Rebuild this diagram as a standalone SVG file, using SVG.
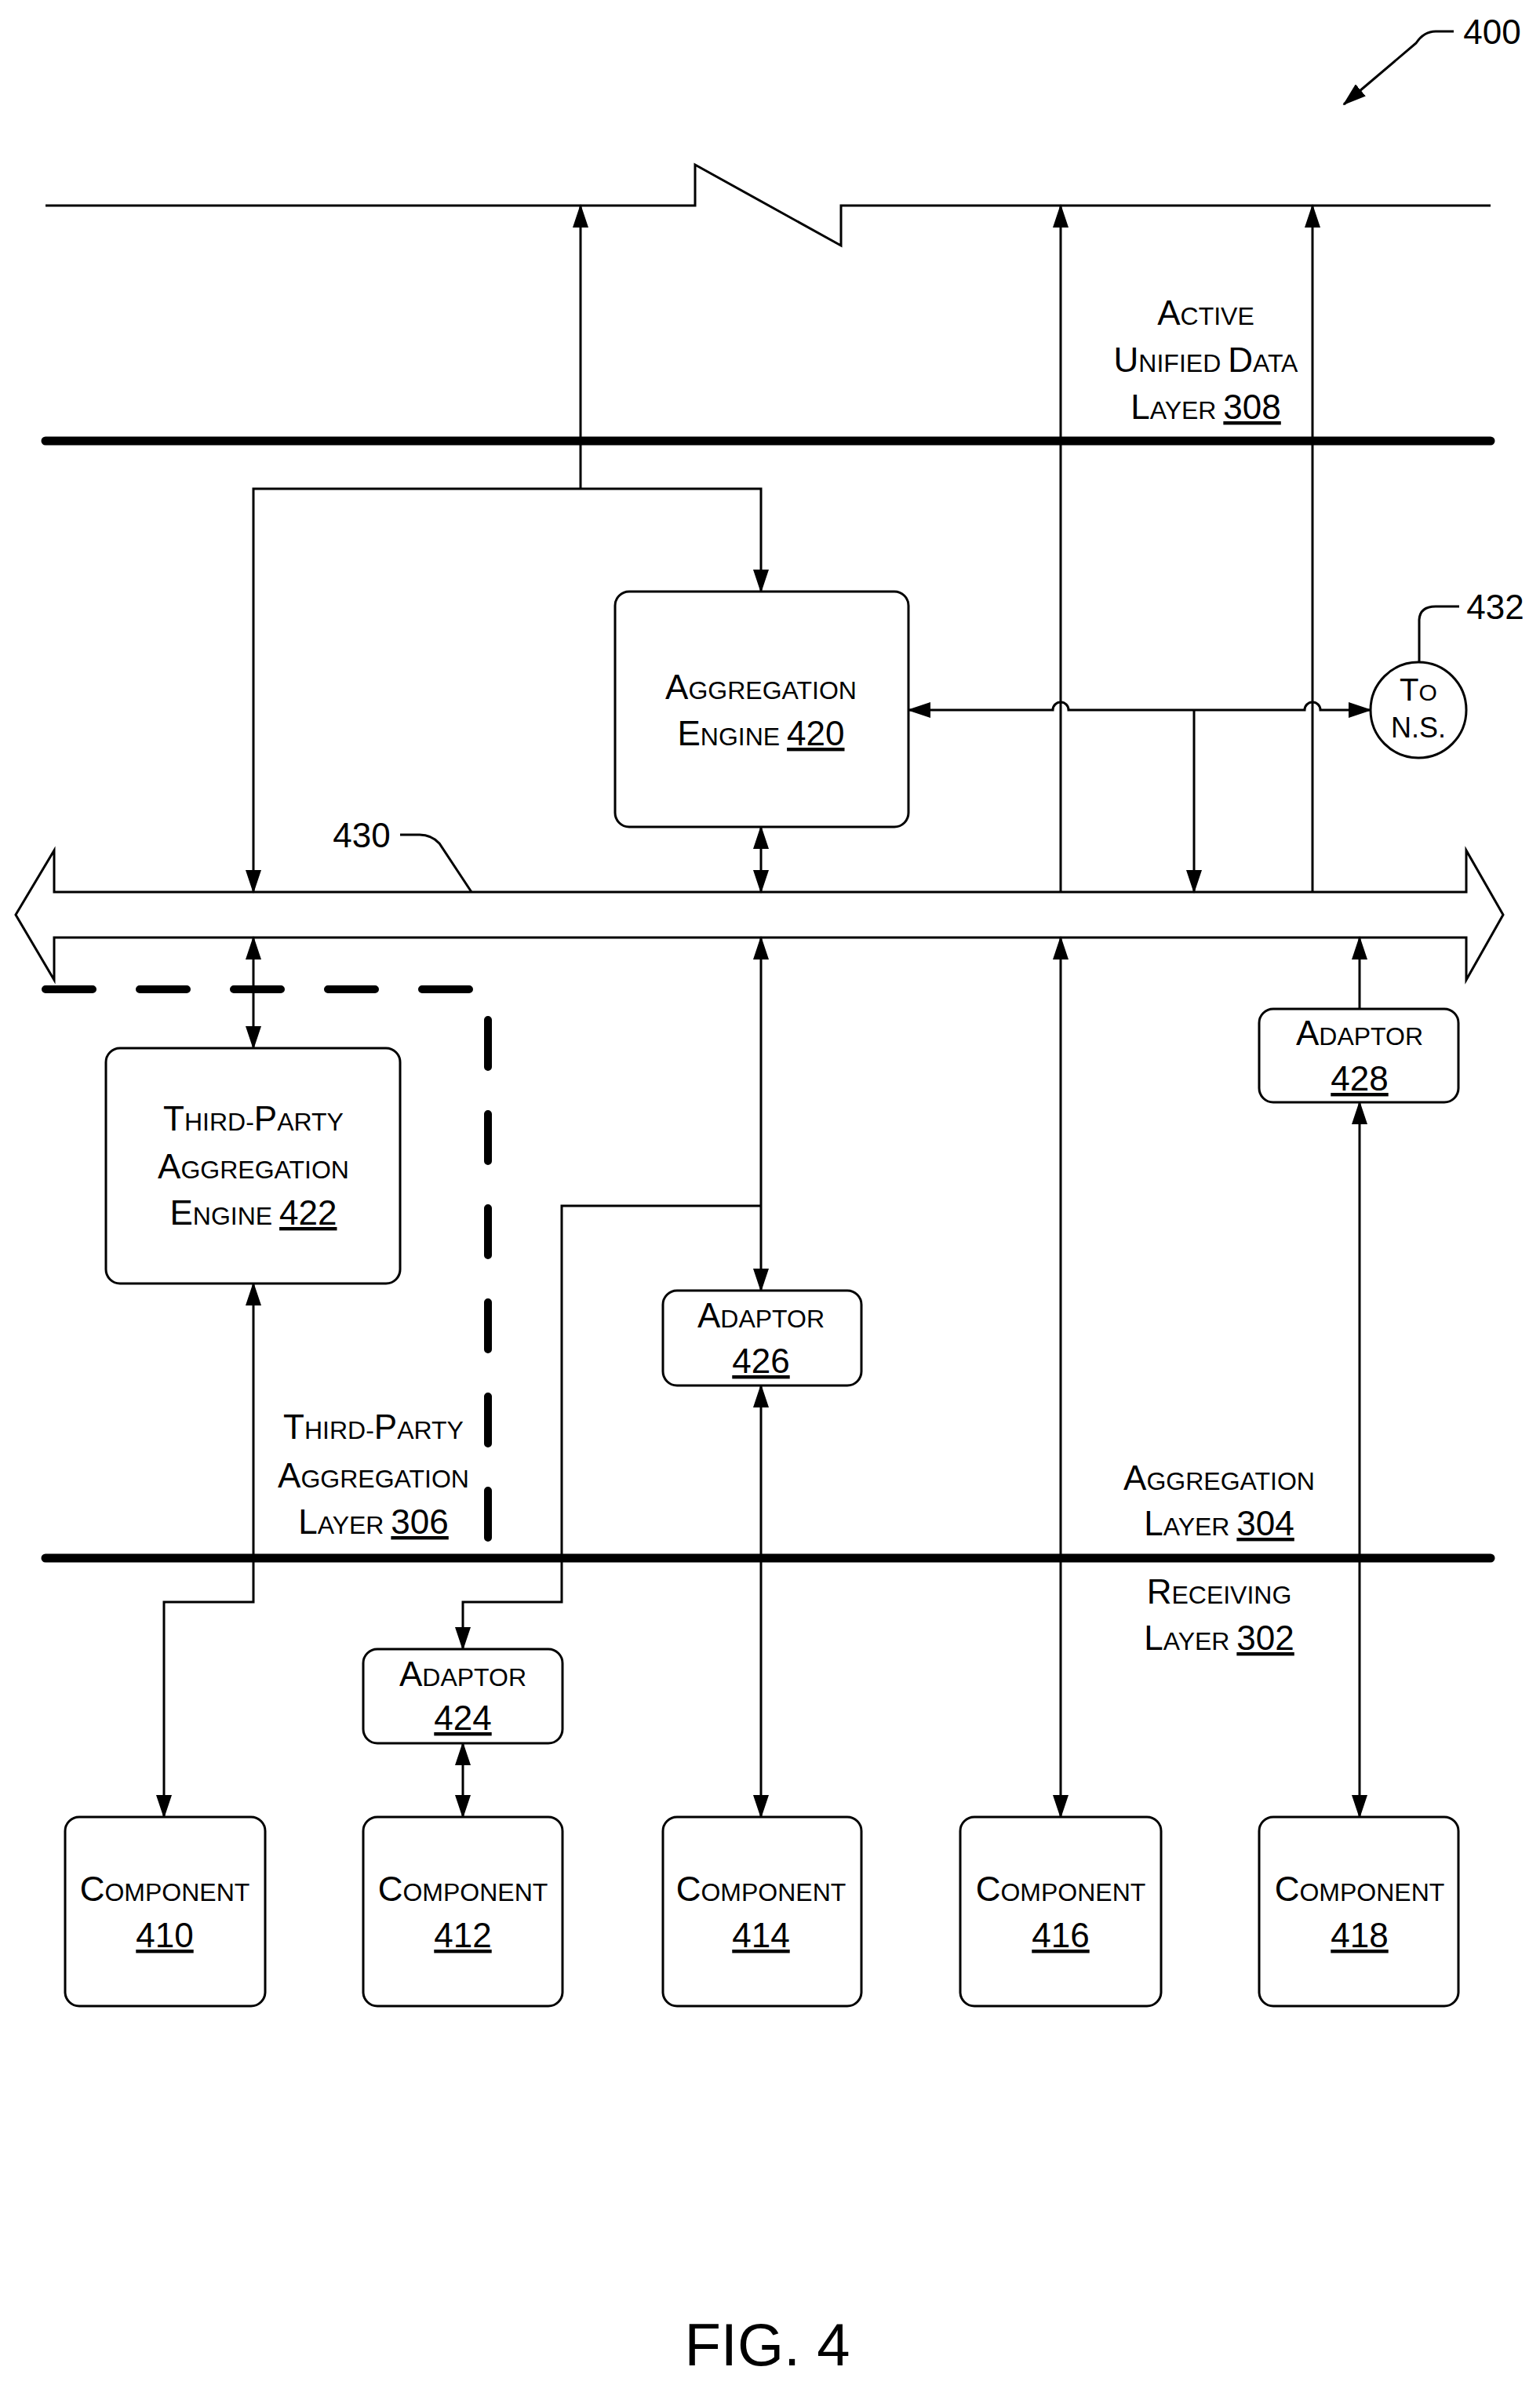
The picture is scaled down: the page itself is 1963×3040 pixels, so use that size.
<svg xmlns="http://www.w3.org/2000/svg" width="1963" height="3040" viewBox="0 0 1963 3040">
<style>
text{font-family:"Liberation Sans Narrow","Liberation Sans",Arial,sans-serif;font-size:44px;fill:#000;text-anchor:middle}
.s{font-size:32px}
.u{text-decoration:underline}
.ln{fill:none;stroke:#000;stroke-width:3}
.thick{fill:none;stroke:#000;stroke-width:11;stroke-linecap:round}
.box{fill:#fff;stroke:#000;stroke-width:3}
.dash{fill:none;stroke:#000;stroke-width:10;stroke-linecap:round;stroke-dasharray:60,60}
</style>
<defs>
<marker id="a" markerUnits="userSpaceOnUse" markerWidth="30" markerHeight="20" refX="28" refY="10" orient="auto-start-reverse"><path d="M0,0 L30,10 L0,20 Z" fill="#000"/></marker>
</defs>
<g id="layers">
<path class="ln" d="M58,262 H886 V210 L1072,313 V262 H1900" stroke-width="4"/>
<line class="thick" x1="58" y1="562" x2="1900" y2="562"/>
<line class="thick" x1="58" y1="1986" x2="1900" y2="1986"/>
<path class="dash" d="M58,1261 H601"/>
<path class="dash" d="M622,1300 V1986" stroke-dasharray="60,50"/>
<text x="1537" y="414"><tspan>A</tspan><tspan class="s">CTIVE</tspan></text>
<text x="1537" y="474"><tspan>U</tspan><tspan class="s">NIFIED </tspan><tspan>D</tspan><tspan class="s">ATA</tspan></text>
<text x="1537" y="534"><tspan>L</tspan><tspan class="s">AYER </tspan><tspan class="u">308</tspan></text>
<text x="476" y="1834"><tspan>T</tspan><tspan class="s">HIRD-</tspan><tspan>P</tspan><tspan class="s">ARTY</tspan></text>
<text x="476" y="1896"><tspan>A</tspan><tspan class="s">GGREGATION</tspan></text>
<text x="476" y="1955"><tspan>L</tspan><tspan class="s">AYER </tspan><tspan class="u">306</tspan></text>
<text x="1554" y="1899"><tspan>A</tspan><tspan class="s">GGREGATION</tspan></text>
<text x="1554" y="1957"><tspan>L</tspan><tspan class="s">AYER </tspan><tspan class="u">304</tspan></text>
<text x="1554" y="2044"><tspan>R</tspan><tspan class="s">ECEIVING</tspan></text>
<text x="1554" y="2103"><tspan>L</tspan><tspan class="s">AYER </tspan><tspan class="u">302</tspan></text>
<text x="1902" y="56">400</text>
<text x="1906" y="789">432</text>
<text x="461" y="1080">430</text>
<text x="978" y="3015" style="font-family:'Liberation Sans',Arial,sans-serif;font-size:76px">FIG. 4</text>
</g>
<g id="bus430"><path class="box" d="M20,1166 L69,1084 V1137 H1869 V1084 L1916,1166 L1869,1249 V1195 H69 V1249 Z"/></g>
<g id="connectors">
<path class="ln" d="M1853,40 H1830 Q1815,40 1805,55 L1713,133" marker-end="url(#a)"/>
<path class="ln" d="M1809,844 V790 Q1810,773 1830,773 H1860"/>
<path class="ln" d="M601,1137 L560,1075 Q550,1064 535,1064 H510"/>
<path class="ln" d="M740,623 V262" marker-end="url(#a)"/>
<path class="ln" d="M323,1137 V623 H970 V754" marker-start="url(#a)" marker-end="url(#a)"/>
<path class="ln" d="M970,1054 V1137" marker-start="url(#a)" marker-end="url(#a)"/>
<path class="ln" d="M1158,905 H1342 a10,10 0 0 1 20,0 H1663 a10,10 0 0 1 20,0 H1747" marker-start="url(#a)" marker-end="url(#a)"/>
<path class="ln" d="M1522,905 V1137" marker-end="url(#a)"/>
<path class="ln" d="M1352,1137 V262" marker-end="url(#a)"/>
<path class="ln" d="M1673,1137 V262" marker-end="url(#a)"/>
<path class="ln" d="M323,1195 V1336" marker-start="url(#a)" marker-end="url(#a)"/>
<path class="ln" d="M323,1636 V2042 H209 V2316" marker-start="url(#a)" marker-end="url(#a)"/>
<path class="ln" d="M970,1195 V1645" marker-start="url(#a)" marker-end="url(#a)"/>
<path class="ln" d="M970,1537 H716 V2042 H590 V2102" marker-end="url(#a)"/>
<path class="ln" d="M590,2222 V2316" marker-start="url(#a)" marker-end="url(#a)"/>
<path class="ln" d="M970,1766 V2316" marker-start="url(#a)" marker-end="url(#a)"/>
<path class="ln" d="M1352,1195 V2316" marker-start="url(#a)" marker-end="url(#a)"/>
<path class="ln" d="M1733,1286 V1195" marker-end="url(#a)"/>
<path class="ln" d="M1733,1405 V2316" marker-start="url(#a)" marker-end="url(#a)"/>
</g>
<g id="n420"><rect class="box" x="784" y="754" width="374" height="300" rx="18"/>
<text x="970" y="891"><tspan>A</tspan><tspan class="s">GGREGATION</tspan></text>
<text x="970" y="950"><tspan>E</tspan><tspan class="s">NGINE </tspan><tspan class="u">420</tspan></text></g>
<g id="n432"><circle class="box" cx="1808" cy="905" r="61"/>
<text x="1808" y="893" style="font-size:40px"><tspan>T</tspan><tspan style="font-size:30px">O</tspan></text>
<text x="1808" y="940" style="font-size:36px">N.S.</text></g>
<g id="n422"><rect class="box" x="135" y="1336" width="375" height="300" rx="18"/>
<text x="323" y="1441"><tspan>T</tspan><tspan class="s">HIRD-</tspan><tspan>P</tspan><tspan class="s">ARTY</tspan></text>
<text x="323" y="1502"><tspan>A</tspan><tspan class="s">GGREGATION</tspan></text>
<text x="323" y="1561"><tspan>E</tspan><tspan class="s">NGINE </tspan><tspan class="u">422</tspan></text></g>
<g id="n428"><rect class="box" x="1605" y="1286" width="254" height="119" rx="18"/>
<text x="1733" y="1332"><tspan>A</tspan><tspan class="s">DAPTOR</tspan></text>
<text x="1733" y="1390" class="u">428</text></g>
<g id="n426"><rect class="box" x="845" y="1645" width="253" height="121" rx="18"/>
<text x="970" y="1692"><tspan>A</tspan><tspan class="s">DAPTOR</tspan></text>
<text x="970" y="1750" class="u">426</text></g>
<g id="n424"><rect class="box" x="463" y="2102" width="254" height="120" rx="18"/>
<text x="590" y="2149"><tspan>A</tspan><tspan class="s">DAPTOR</tspan></text>
<text x="590" y="2205" class="u">424</text></g>
<g id="n410"><rect class="box" x="83" y="2316" width="255" height="241" rx="18"/><text x="210" y="2423"><tspan>C</tspan><tspan class="s">OMPONENT</tspan></text><text x="210" y="2482" class="u">410</text></g>
<g id="n412"><rect class="box" x="463" y="2316" width="254" height="241" rx="18"/><text x="590" y="2423"><tspan>C</tspan><tspan class="s">OMPONENT</tspan></text><text x="590" y="2482" class="u">412</text></g>
<g id="n414"><rect class="box" x="845" y="2316" width="253" height="241" rx="18"/><text x="970" y="2423"><tspan>C</tspan><tspan class="s">OMPONENT</tspan></text><text x="970" y="2482" class="u">414</text></g>
<g id="n416"><rect class="box" x="1224" y="2316" width="256" height="241" rx="18"/><text x="1352" y="2423"><tspan>C</tspan><tspan class="s">OMPONENT</tspan></text><text x="1352" y="2482" class="u">416</text></g>
<g id="n418"><rect class="box" x="1605" y="2316" width="254" height="241" rx="18"/><text x="1733" y="2423"><tspan>C</tspan><tspan class="s">OMPONENT</tspan></text><text x="1733" y="2482" class="u">418</text></g>
</svg>
